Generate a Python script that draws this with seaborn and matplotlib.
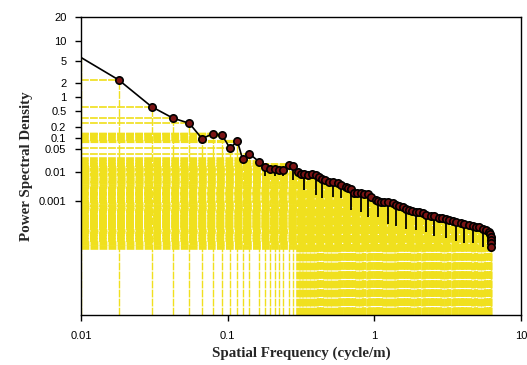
import numpy as np
import matplotlib
matplotlib.use("Agg")
import matplotlib.pyplot as plt
import seaborn as sns
from matplotlib.ticker import FixedLocator, FixedFormatter, NullLocator

# ---------------- data ----------------
freq = [0.01, 0.0181, 0.0303, 0.0422, 0.0548, 0.0669, 0.0790, 0.0916, 0.1038, 0.1164,
        0.1265, 0.1406, 0.1644, 0.1807, 0.1955, 0.2115, 0.2252, 0.2397, 0.2604, 0.2773,
        0.3000, 0.3179, 0.3333, 0.3549, 0.3778, 0.4005, 0.4218, 0.4419, 0.4634, 0.4934,
        0.5254, 0.5622, 0.5957, 0.6412, 0.6649, 0.6939, 0.7307, 0.7660, 0.8154, 0.8548,
        0.9001, 0.9540, 1.027, 1.065, 1.111, 1.170, 1.246, 1.333, 1.413, 1.480,
        1.559, 1.644, 1.733, 1.816, 1.924, 2.026, 2.134, 2.262, 2.435, 2.564,
        2.774, 2.908, 3.082, 3.245, 3.418, 3.622, 3.899, 4.108, 4.442, 4.731,
        4.960, 5.196, 5.534, 5.801, 6.080, 6.18, 6.20, 6.22, 6.24, 6.26]
psd = [5.6, 2.24, 0.618, 0.335, 0.247, 0.0957, 0.131, 0.119, 0.0523, 0.0828,
       0.0245, 0.0361, 0.0204, 0.0144, 0.0126, 0.0125, 0.0117, 0.0117, 0.0166, 0.0158,
       0.0100, 0.00874, 0.00840, 0.00807, 0.00840, 0.00807, 0.00689, 0.00587, 0.00543, 0.00474,
       0.00445, 0.00418, 0.00365, 0.00319, 0.00288, 0.00259, 0.00198, 0.00193, 0.00186, 0.00182,
       0.00174, 0.00141, 0.00111, 0.00102, 0.000968, 0.000944, 0.000908, 0.000851, 0.000742, 0.000684,
       0.000616, 0.000524, 0.000495, 0.000457, 0.000432, 0.000405, 0.000379, 0.000344, 0.000313, 0.000293,
       0.000266, 0.000254, 0.000239, 0.000221, 0.000209, 0.000195, 0.000177, 0.000166, 0.000147, 0.000136,
       0.000127, 0.000122, 0.000111, 0.0000985, 0.0000858, 0.0000713, 0.0000558, 0.0000439, 0.0000344, 0.0000255]

# points carrying black (lower) error bars, and their lower ends
eb_index = [13, 15, 17, 19, 22, 25, 27, 30, 32, 35, 38, 40, 43, 46, 48, 51, 54, 57, 59, 62, 65, 67, 69, 72]
eb_low = [0.00745, 0.00745, 0.00745, 0.00542, 0.00245, 0.00165, 0.00127, 0.00144, 0.00127, 0.000495,
          0.000432, 0.000288, 0.000288, 0.000160, 0.000136, 0.000104, 0.0000985, 0.0000858, 0.0000606,
          0.0000503, 0.0000415, 0.0000336, 0.0000336, 0.0000255]

xticks = [0.01, 0.1, 1, 10]
xtick_labels = ["0.01", "0.1", "1", "10"]
yticks = [0.001, 0.01, 0.05, 0.1, 0.2, 0.5, 1, 2, 5, 10, 20]
ytick_labels = ["0.001", "0.01", "0.05", "0.1", "0.2", "0.5", "1", "2", "5", "10", "20"]

# ---------------- style ----------------
sns.set_style("ticks")
plt.rcParams["font.family"] = ["Liberation Sans", "DejaVu Sans"]
plt.rcParams["lines.scale_dashes"] = False

# warped y axis of the original (log10 value -> relative height)
cal_log = np.array([-7.0, -3.0, -2.0, -1.301, -1.0, -0.699, -0.301, 0.0, 0.301, 0.699, 1.0, 1.301])
cal_h = np.array([0.0, 114.0, 143.0, 166.3, 177.3, 188.3, 204.3, 218.3, 232.6, 254.6, 274.3, 298.0])
s_lo = (cal_h[1] - cal_h[0]) / (cal_log[1] - cal_log[0])
s_hi = (cal_h[-1] - cal_h[-2]) / (cal_log[-1] - cal_log[-2])


def fwd(v):
    v = np.asarray(v, dtype=float)
    L = np.log10(np.clip(v, 1e-30, None))
    out = np.interp(L, cal_log, cal_h)
    out = np.where(L < cal_log[0], cal_h[0] + (L - cal_log[0]) * s_lo, out)
    out = np.where(L > cal_log[-1], cal_h[-1] + (L - cal_log[-1]) * s_hi, out)
    return out


def inv(h):
    h = np.asarray(h, dtype=float)
    L = np.interp(h, cal_h, cal_log)
    L = np.where(h < cal_h[0], cal_log[0] + (h - cal_h[0]) / s_lo, L)
    L = np.where(h > cal_h[-1], cal_log[-1] + (h - cal_h[-1]) / s_hi, L)
    return 10.0 ** L


fig = plt.figure(figsize=(5.27, 3.65), dpi=100)
ax = fig.add_axes([81 / 527, 1 - 315.3 / 365, 440 / 527, 298 / 365])
ax.set_xscale("log")
ax.set_yscale("function", functions=(fwd, inv))
ybot = 1e-7
ax.set_xlim(0.01, 10)
ax.set_ylim(ybot, 20)


def fill_widths(coords, thin_px, dense_px):
    """Drop-line width: thin where marks are sparse, wide enough to close
    the gaps where the original's marks were too dense to resolve."""
    c = np.asarray(coords, dtype=float)
    dense_px = np.broadcast_to(np.asarray(dense_px, dtype=float), c.shape)
    order = np.argsort(c)
    gaps = np.diff(c[order])
    thr = np.minimum(dense_px[order][:-1], dense_px[order][1:])
    gaps = np.where(gaps < thr, gaps, 0.0)
    left = np.r_[0.0, gaps]
    right = np.r_[gaps, 0.0]
    big = np.maximum(left, right)
    w_sorted = np.where(big > 0, np.maximum(big + 0.9, thin_px), thin_px)
    w = np.empty(len(c))
    w[order] = w_sorted
    return w * 72.0 / fig.dpi


disp = ax.transData.transform(np.column_stack([freq, psd]))
f_arr = np.asarray(freq)
w_vert = fill_widths(disp[:, 0], 1.4, np.where(f_arr >= 0.29, 5.4, 3.9))
w_horz = fill_widths(disp[:, 1], 1.7, 4.5)

yellow = "#F0E01E"
dash = (0, (5.6, 0.9))
ax.vlines(freq, ybot, psd, colors=yellow, linewidths=w_vert, linestyles=[dash], zorder=1)
ax.hlines(psd, 0.01, freq, colors=yellow, linewidths=w_horz, linestyles=[dash], zorder=1)

ax.vlines([freq[i] for i in eb_index], eb_low, [psd[i] for i in eb_index],
          colors="black", linewidths=1.3, zorder=2.5)

sns.lineplot(x=freq, y=psd, color="black", linewidth=1.2, sort=False, estimator=None,
             ax=ax, zorder=3)
sns.scatterplot(x=freq[1:], y=psd[1:], color="#7a1414", edgecolor="black", linewidth=1.2,
                s=28, zorder=4, ax=ax, legend=False)

ax.xaxis.set_major_locator(FixedLocator(xticks))
ax.xaxis.set_major_formatter(FixedFormatter(xtick_labels))
ax.xaxis.set_minor_locator(NullLocator())
ax.yaxis.set_major_locator(FixedLocator(yticks))
ax.yaxis.set_major_formatter(FixedFormatter(ytick_labels))
ax.yaxis.set_minor_locator(NullLocator())

for sp in ax.spines.values():
    sp.set_visible(True)
    sp.set_color("black")
    sp.set_linewidth(1.0)
ax.tick_params(axis="both", direction="out", length=4.5, width=1.0, colors="black",
               labelsize=8)
ax.tick_params(axis="y", pad=6)
ax.tick_params(axis="x", pad=7)

ax.set_xlabel("Spatial Frequency (cycle/m)", family=["Liberation Serif", "DejaVu Serif"],
              fontweight="bold", fontsize=10.8)
ax.set_ylabel("Power Spectral Density", family=["Liberation Serif", "DejaVu Serif"],
              fontweight="bold", fontsize=10.8)
ax.xaxis.set_label_coords(0.5, -0.105)
ax.yaxis.set_label_coords(-0.109, 0.5)

fig.savefig("out.png", dpi=100, facecolor="white")
